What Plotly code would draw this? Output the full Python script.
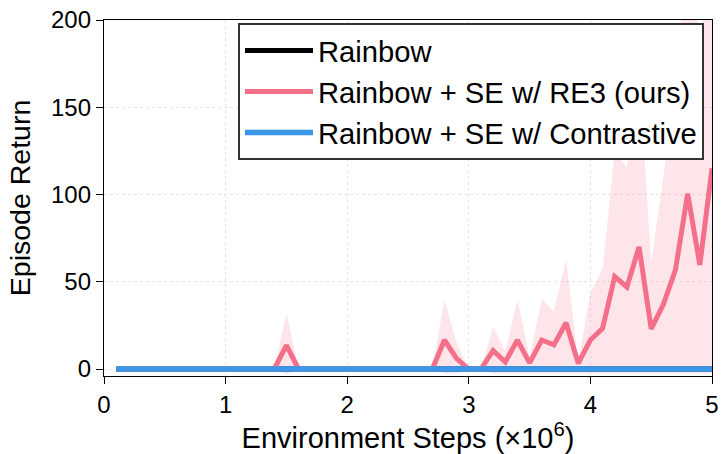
import plotly.graph_objects as go

steps = [0.1, 0.2, 0.3, 0.4, 0.5, 0.6, 0.7, 0.8, 0.9, 1.0,
         1.1, 1.2, 1.3, 1.4, 1.5, 1.6, 1.7, 1.8, 1.9, 2.0,
         2.1, 2.2, 2.3, 2.4, 2.5, 2.6, 2.7, 2.8, 2.9, 3.0,
         3.1, 3.2, 3.3, 3.4, 3.5, 3.6, 3.7, 3.8, 3.9, 4.0,
         4.1, 4.2, 4.3, 4.4, 4.5, 4.6, 4.7, 4.8, 4.9, 5.0]

rainbow = [0, 0, 0, 0, 0, 0, 0, 0, 0, 0,
           0, 0, 0, 0, 0, 0, 0, 0, 0, 0,
           0, 0, 0, 0, 0, 0, 0, 0, 0, 0,
           0, 0, 0, 0, 0, 0, 0, 0, 0, 0,
           0, 0, 0, 0, 0, 0, 0, 0, 0, 0]

re3_mean = [0, 0, 0, 0, 0, 0, 0, 0, 0, 0,
            0, 0, 0, 0, 13.5, 0, 0, 0, 0, 0,
            0, 0, 0, 0, 0, 0, 0, 16.6, 6, 0,
            0, 10.5, 4, 16.6, 3.5, 16.6, 13.8, 26.5, 3.2, 16.6,
            23.3, 53, 47, 70, 23, 37, 57, 100.5, 59.6, 115]

re3_upper = [0, 0, 0, 0, 0, 0, 0, 0, 0, 0,
             0, 0, 0, 0, 32, 0, 0, 0, 0, 0,
             0, 0, 0, 0, 0, 0, 0, 39.5, 15, 0,
             0, 24, 10, 39.5, 7, 40, 33, 63, 4, 44,
             57, 125, 115, 170, 61, 110, 160, 250, 190, 230]

re3_lower = [0, 0, 0, 0, 0, 0, 0, 0, 0, 0,
             0, 0, 0, 0, -3, 0, 0, 0, 0, 0,
             0, 0, 0, 0, 0, 0, 0, -2.5, -2.5, 0,
             0, -2.5, -2.5, -2.5, -2.5, -2.5, -2.5, -2.5, -2.5, -2.5,
             -2.5, -2.5, -2.5, -2.5, -2.5, -2.5, -2.5, -2.5, -2.5, -2.5]

contrastive = [0, 0, 0, 0, 0, 0, 0, 0, 0, 0,
               0, 0, 0, 0, 0, 0, 0, 0, 0, 0,
               0, 0, 0, 0, 0, 0, 0, 0, 0, 0,
               0, 0, 0, 0, 0, 0, 0, 0, 0, 0,
               0, 0, 0, 0, 0, 0, 0, 0, 0, 0]

x_ticks = [0, 1, 2, 3, 4, 5]
y_ticks = [0, 50, 100, 150, 200]

PINK = "#F4708A"
BLUE = "#3A96E8"
FONT = "Liberation Sans, Arial, sans-serif"

fig = go.Figure()

fig.add_trace(go.Scatter(x=steps, y=re3_lower, mode="lines", line=dict(width=0),
                         showlegend=False, hoverinfo="skip"))
fig.add_trace(go.Scatter(x=steps, y=re3_upper, mode="lines", line=dict(width=0),
                         fill="tonexty", fillcolor="rgba(244,112,138,0.18)",
                         showlegend=False, hoverinfo="skip"))

fig.add_trace(go.Scatter(x=steps, y=rainbow, mode="lines", name="Rainbow",
                         line=dict(color="black", width=5), legendgroup="a"))
fig.add_trace(go.Scatter(x=steps, y=re3_mean, mode="lines", name="Rainbow + SE w/ RE3 (ours)",
                         line=dict(color=PINK, width=5), legendgroup="b"))
fig.add_trace(go.Scatter(x=steps, y=contrastive, mode="lines", name="Rainbow + SE w/ Contrastive",
                         line=dict(color=BLUE, width=5.5), legendgroup="c"))

fig.update_layout(
    width=721, height=454,
    margin=dict(l=104, r=9, t=20, b=78, autoexpand=False),
    paper_bgcolor="white", plot_bgcolor="white",
    font=dict(family=FONT, color="black"),
    legend=dict(x=0.2204, y=0.9916, xanchor="left", yanchor="top",
                bgcolor="white", bordercolor="#333333", borderwidth=2,
                font=dict(size=29.2, family=FONT), traceorder="grouped",
                tracegroupgap=0, itemwidth=68, entrywidth=395, entrywidthmode="pixels"),
)

fig.update_xaxes(
    range=[0, 5], tickvals=x_ticks, ticktext=[str(t) for t in x_ticks],
    ticks="outside", ticklen=7, tickwidth=1.2, tickcolor="black",
    showline=True, linecolor="black", linewidth=1.3, mirror=True,
    showgrid=True, gridcolor="#e6e6e6", griddash="dot", gridwidth=1,
    zeroline=False, tickfont=dict(size=24), automargin=False,
    title=dict(text="Environment Steps (×10<sup>6</sup>)", font=dict(size=29), standoff=8),
)
fig.update_yaxes(
    range=[-4, 200], tickvals=y_ticks, ticktext=[str(t) for t in y_ticks],
    ticks="outside", ticklen=7, tickwidth=1.2, tickcolor="black",
    showline=True, linecolor="black", linewidth=1.3, mirror=True,
    showgrid=True, gridcolor="#e6e6e6", griddash="dot", gridwidth=1,
    zeroline=False, tickfont=dict(size=24), automargin=False,
    title=dict(text="Episode Return", font=dict(size=28.5), standoff=12),
)

fig.write_html("out.html")
